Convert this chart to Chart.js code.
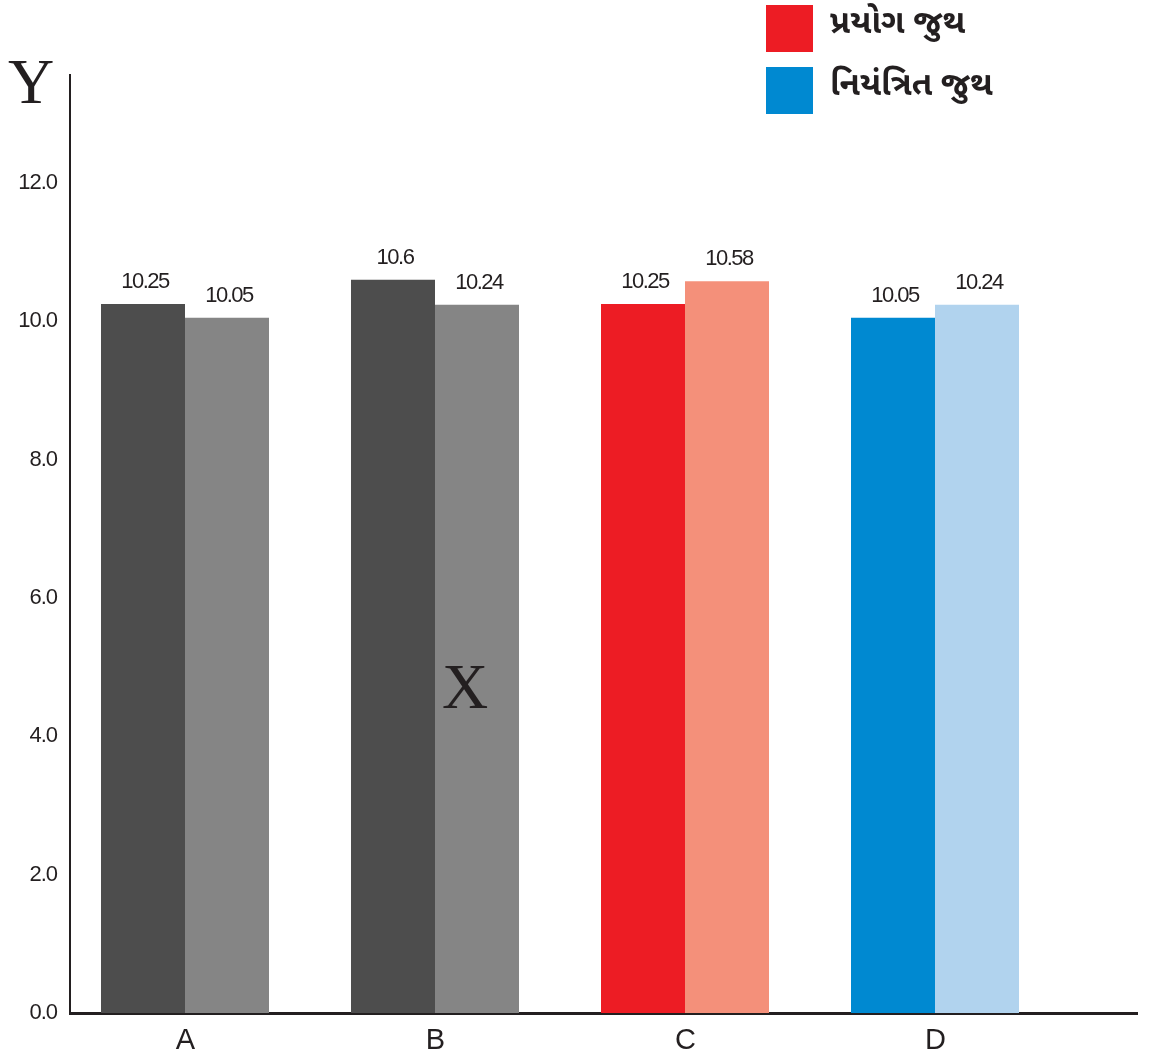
<!DOCTYPE html>
<html>
<head>
<meta charset="utf-8">
<script src="https://cdn.jsdelivr.net/npm/chart.js@4.4.1/dist/chart.umd.min.js"></script>
<style>
  html, body { margin: 0; padding: 0; background: #ffffff; }
  #groupChart { display: block; }
</style>
</head>
<body>
<canvas id="groupChart" width="1161" height="1061"></canvas>
<script>
// ---------- Data ------------- //
const categories = ['A', 'B', 'C', 'D'];
const leftValues = [10.25, 10.6, 10.25, 10.05];
const rightValues = [10.05, 10.24, 10.58, 10.24];
const leftColors = ['#4d4d4d', '#4d4d4d', '#ed1c24', '#0089d1'];
const rightColors = ['#858585', '#858585', '#f4907a', '#b1d3ee'];
const legendNames = ['પ્રયોગ જુથ', 'નિયંત્રિત જુથ'];
const legendColors = ['#ed1c24', '#0089d1'];
const yTicks = [0, 2, 4, 6, 8, 10, 12];

const ink = '#231f20';
const groupChart = document.getElementById('groupChart');

function toPoints(values) {
    return values.map((v, i) => ({ x: i, y: v }));
}

// ---------- Value labels, legend and axis letters ------------- //
const decorations = {
    id: 'decorations',
    beforeDraw(chart) {
        chart.ctx.letterSpacing = '-1px';
    },
    afterDatasetsDraw(chart) {
        const ctx = chart.ctx;
        ctx.save();
        ctx.letterSpacing = '-1.5px';
        ctx.fillStyle = ink;
        ctx.font = '22px "Liberation Sans", Arial, sans-serif';
        ctx.textAlign = 'center';
        ctx.textBaseline = 'alphabetic';
        chart.data.datasets.forEach((ds, di) => {
            chart.getDatasetMeta(di).data.forEach((bar, i) => {
                ctx.fillText(String(ds.data[i].y), bar.x + 2, bar.y - 16);
            });
        });
        ctx.restore();
    },
    afterDraw(chart) {
        const ctx = chart.ctx;
        ctx.save();
        ctx.letterSpacing = '0px';

        // legend
        legendNames.forEach((name, i) => {
            const top = 5 + i * 62;
            ctx.fillStyle = legendColors[i];
            ctx.fillRect(766, top, 47, 47);
            ctx.fillStyle = ink;
            ctx.font = 'bold 33px "Noto Sans Gujarati", "Noto Sans", sans-serif';
            ctx.textAlign = 'left';
            ctx.textBaseline = 'middle';
            ctx.fillText(name, 830, top + 22);
        });

        // axis letters
        ctx.fillStyle = ink;
        ctx.font = '64px "Liberation Serif", "DejaVu Serif", serif';
        ctx.textAlign = 'center';
        ctx.textBaseline = 'alphabetic';
        ctx.fillText('Y', 31, 103);
        ctx.fillText('X', 465, 708);
        ctx.restore();
    }
};

// ---------- Grouped bar chart ------------- //
new Chart(groupChart, {
    type: 'bar',
    data: {
        datasets: [{
            label: legendNames[0],
            data: toPoints(leftValues),
            backgroundColor: leftColors,
            borderWidth: 0
        }, {
            label: legendNames[1],
            data: toPoints(rightValues),
            backgroundColor: rightColors,
            borderWidth: 0
        }]
    },
    options: {
        responsive: false,
        animation: false,
        layout: {
            padding: { top: 75, right: 24, left: 0, bottom: 0 }
        },
        categoryPercentage: 0.672,
        barPercentage: 1.0,
        plugins: {
            legend: { display: false },
            tooltip: { enabled: false }
        },
        scales: {
            x: {
                type: 'linear',
                offset: false,
                min: -0.46,
                max: 3.808,
                afterBuildTicks: (axis) => {
                    axis.ticks = categories.map((c, i) => ({ value: i }));
                },
                afterFit: (axis) => { axis.height = 48; },
                grid: { display: false, drawTicks: false },
                border: { display: true, color: ink, width: 3 },
                ticks: {
                    autoSkip: false,
                    maxRotation: 0,
                    padding: 11,
                    color: ink,
                    font: { family: '"Liberation Sans", Arial, sans-serif', size: 29 },
                    callback: (v) => categories[v] ?? ''
                }
            },
            y: {
                min: 0,
                max: 13.56,
                afterBuildTicks: (axis) => {
                    axis.ticks = yTicks.map((v) => ({ value: v }));
                },
                afterFit: (axis) => { axis.width = 70; },
                grid: { display: false, drawTicks: false },
                border: { display: true, color: ink, width: 2 },
                ticks: {
                    padding: 13,
                    color: ink,
                    font: { family: '"Liberation Sans", Arial, sans-serif', size: 22 },
                    callback: (v) => v.toFixed(1)
                }
            }
        }
    },
    plugins: [decorations]
});
</script>
</body>
</html>
